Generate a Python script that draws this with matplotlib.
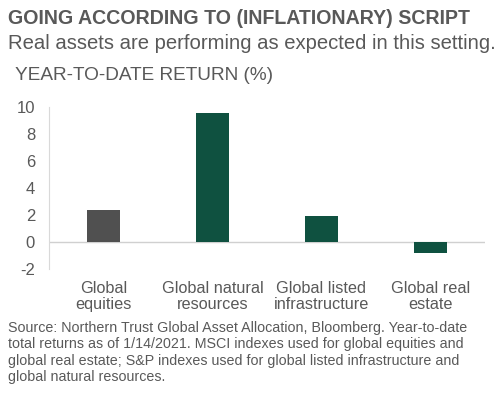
import numpy as np
import matplotlib
matplotlib.use('Agg')
import matplotlib.pyplot as plt

plt.rcParams['font.family'] = ['Liberation Sans', 'DejaVu Sans']

categories = ['Global\nequities', 'Global natural\nresources', 'Global listed\ninfrastructure', 'Global real\nestate']
returns = [2.4, 9.6, 1.95, -0.8]
colors = ['#505050', '#0f5140', '#0f5140', '#0f5140']
yticks = [-2, 0, 2, 4, 6, 8, 10]

txt = '#595959'
fig = plt.figure(figsize=(5, 3.95), dpi=100)
ax = fig.add_axes([0.098, 0.318, 0.872, 0.41])

x = np.arange(len(categories))
ax.bar(x, returns, width=0.3, color=colors)
ax.axhline(0, color='#d0d0d0', lw=1, zorder=0)
ax.set_xlim(-0.5, 3.5)
ax.set_ylim(-2, 10)
ax.set_yticks(yticks)
ax.set_yticklabels([str(v) for v in yticks], fontsize=12, color=txt)
ax.set_xticks(x)
ax.set_xticklabels(categories, fontsize=11.7, color=txt, linespacing=1.15)
ax.tick_params(length=0, axis='both')
ax.tick_params(axis='x', pad=8)
ax.tick_params(axis='y', pad=10)
for s in ['top', 'right', 'bottom']:
    ax.spines[s].set_visible(False)
ax.spines['left'].set_color('#d9d9d9')

fig.text(0.016, 0.954, 'GOING ACCORDING TO (INFLATIONARY) SCRIPT', fontsize=14.1,
         fontweight='bold', color=txt, va='center')
fig.text(0.016, 0.891, 'Real assets are performing as expected in this setting.',
         fontsize=14.6, color=txt, va='center')
fig.text(0.03, 0.81, 'YEAR-TO-DATE RETURN (%)', fontsize=13.7, color=txt, va='center')
fig.text(0.016, 0.187, 'Source: Northern Trust Global Asset Allocation, Bloomberg. Year-to-date\n'
         'total returns as of 1/14/2021. MSCI indexes used for global equities and\n'
         'global real estate; S&P indexes used for global listed infrastructure and\n'
         'global natural resources.', fontsize=10.25, color=txt, va='top', linespacing=1.2)

fig.savefig('out.png', dpi=100)
